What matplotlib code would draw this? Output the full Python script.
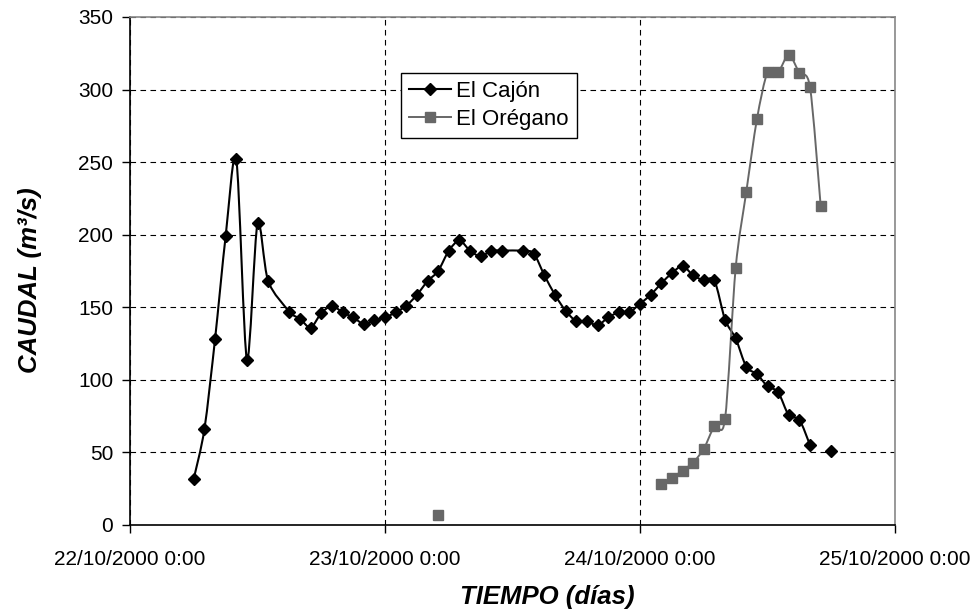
import datetime as dt

import matplotlib
matplotlib.use('Agg')
import matplotlib.pyplot as plt
import matplotlib.dates as mdates
from matplotlib.path import Path
from matplotlib.patches import PathPatch
from matplotlib.lines import Line2D
import numpy as np

plt.rcParams['font.family'] = ['Liberation Sans', 'DejaVu Sans']

# horas desde 22/10/2000 0:00 ; None = hueco en la serie
cajon_horas = [6, 7, 8, 9, 10, 11, 12, 13, 15, 16, 17, 18, 19, 20, 21, 22, 23, 24,
               25, 26, 27, 28, 29, 30, 31, 32, 33, 34, 35, 37, 38, 39, 40, 41, 42,
               43, 44, 45, 46, 47, 48, 49, 50, 51, 52, 53, 54, 55, 56, 57, 58, 59,
               60, 61, 62, 63, 64, 65, 66]
cajon_caudal = [32, 66, 128, 199, 252, 114, 208, 168, 147, 142, 136, 146, 151, 146.5,
                143, 138.5, 141, 143, 146.5, 151, 158.5, 168, 175, 189, 196, 189, 185,
                189, 189, 189, 187, 172, 158.5, 147.5, 140.5, 140.5, 137.5, 143, 146.5,
                146.5, 152.5, 158.5, 166.5, 173.5, 178.5, 172, 168.5, 168.5, 141.5,
                128.5, 109, 104, 95.5, 91.5, 75.5, 72.5, 55, None, 51]

oregano_horas = [29, 30, 50, 51, 52, 53, 54, 55, 56, 57, 58, 59, 60, 61, 62, 63, 64, 65]
oregano_caudal = [7, None, 28, 32.5, 37.5, 43, 52.5, 68, 73, 177, 229.5, 279.5, 312,
                  312, 324, 311.5, 301.5, 220]

series_nombres = ['El Cajón', 'El Orégano']
dias = [dt.datetime(2000, 10, 22) + dt.timedelta(days=i) for i in range(4)]

inicio = dt.datetime(2000, 10, 22)


def to_num(horas):
    return np.array([mdates.date2num(inicio + dt.timedelta(hours=h)) for h in horas])


def smooth_path(x, y, k=1 / 7):
    # curva suavizada tipo Excel (Catmull-Rom -> Bezier cubica)
    verts = [(x[0], y[0])]
    codes = [Path.MOVETO]
    n = len(x)
    for i in range(n - 1):
        x0, y0 = (x[i - 1], y[i - 1]) if i > 0 else (x[i], y[i])
        x3, y3 = (x[i + 2], y[i + 2]) if i + 2 < n else (x[i + 1], y[i + 1])
        c1 = (x[i] + (x[i + 1] - x0) * k, y[i] + (y[i + 1] - y0) * k)
        c2 = (x[i + 1] - (x3 - x[i]) * k, y[i + 1] - (y3 - y[i]) * k)
        verts += [c1, c2, (x[i + 1], y[i + 1])]
        codes += [Path.CURVE4] * 3
    return Path(verts, codes)


def draw_series(ax, horas, valores, color, lw, marker, ms):
    xs = to_num(horas)
    seg_x, seg_y = [], []
    segs = []
    for xv, yv in zip(xs, valores):
        if yv is None:
            if seg_x:
                segs.append((seg_x, seg_y))
            seg_x, seg_y = [], []
        else:
            seg_x.append(xv)
            seg_y.append(yv)
    if seg_x:
        segs.append((seg_x, seg_y))
    for sx, sy in segs:
        if len(sx) > 1:
            ax.add_patch(PathPatch(smooth_path(sx, sy), fill=False, edgecolor=color,
                                   lw=lw, zorder=3, capstyle='round', joinstyle='round'))
    vals = np.array([np.nan if v is None else v for v in valores], dtype=float)
    ax.plot(xs, vals, ls='none', marker=marker, ms=ms, color=color,
            markeredgecolor=color, zorder=4)


fig = plt.figure(figsize=(9.77, 6.13), dpi=100)
ax = fig.add_axes([0.1331, 0.1436, 0.7830, 0.8287])

draw_series(ax, cajon_horas, cajon_caudal, 'black', 1.5, 'D', 6.5)
draw_series(ax, oregano_horas, oregano_caudal, '#676767', 1.4, 's', 7.5)

ax.set_xlim(mdates.date2num(dias[0]), mdates.date2num(dias[-1]))
ax.set_ylim(0, 350)
ax.set_yticks(np.arange(0, 351, 50))
ax.set_xticks([mdates.date2num(d) for d in dias])
ax.xaxis.set_major_formatter(
    plt.FuncFormatter(lambda v, p: '{0.day}/{0.month}/{0.year} {0.hour}:{0.minute:02d}'
                      .format(mdates.num2date(v))))

ax.grid(True, color='black', ls=(0, (5, 4)), lw=0.8)
ax.set_axisbelow(True)
ax.tick_params(labelsize=15, direction='out', length=6, width=1, colors='black')
ax.tick_params(axis='y', pad=6)
ax.tick_params(axis='x', pad=12)
ax.spines['left'].set_linewidth(1.2)
ax.spines['bottom'].set_linewidth(1.2)
for s in ['top', 'right']:
    ax.spines[s].set_color('#888888')
    ax.spines[s].set_linewidth(1.2)

ax.set_xlabel('TIEMPO (días)', fontsize=18.5, fontweight='bold', fontstyle='italic')
ax.set_ylabel('CAUDAL (m³/s)', fontsize=18.5, fontweight='bold', fontstyle='italic')
ax.xaxis.set_label_coords(0.546, -0.118)
ax.yaxis.set_label_coords(-0.115, 0.482)

handles = [Line2D([], [], color='black', lw=1.5, marker='D', ms=6.5),
           Line2D([], [], color='#676767', lw=1.4, marker='s', ms=7.5)]
leg = ax.legend(handles, series_nombres, loc='upper left', bbox_to_anchor=(0.354, 0.889),
                fontsize=16, frameon=True, fancybox=False, edgecolor='black',
                framealpha=1, handlelength=1.9, handletextpad=0.25, borderpad=0.35,
                labelspacing=0.3, borderaxespad=0)
leg.get_frame().set_linewidth(1.0)

fig.savefig('out.png', dpi=100)
